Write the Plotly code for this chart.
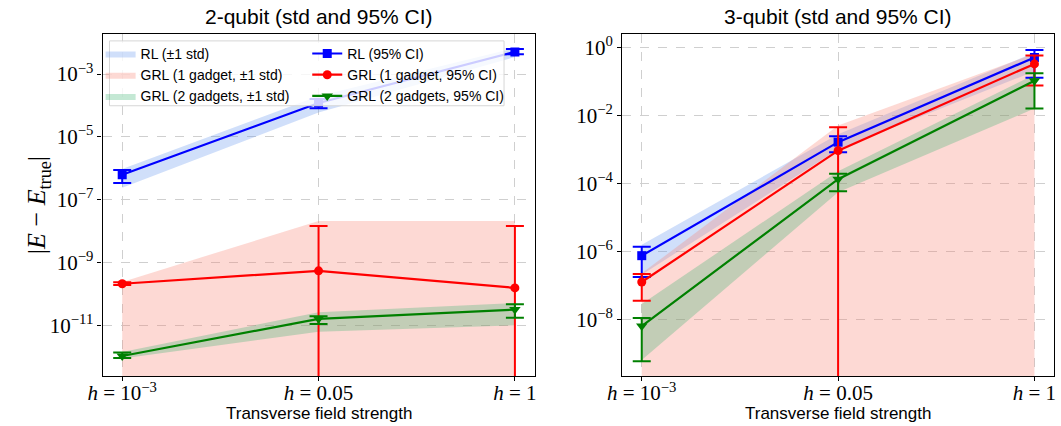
import plotly.graph_objects as go

# Transverse field values (categorical x positions)
categories = ["1e-3", "0.05", "1"]
tick_labels = ["<i>h</i> = 10<sup>−3</sup>", "<i>h</i> = 0.05", "<i>h</i> = 1"]

# ---------- 2-qubit ----------
rl2_mean = [6.2e-7, 1.2e-4, 5.1e-3]
rl2_ci_lo = [3.4e-7, 8.1e-5, 4.3e-3]
rl2_ci_hi = [8.9e-7, 1.6e-4, 6.3e-3]
rl2_std_lo = [2.4e-7, 6.0e-5, 3.5e-3]
rl2_std_hi = [9.5e-7, 2.0e-4, 6.8e-3]

g1_2_mean = [2.1e-10, 5.4e-10, 1.55e-10]
g1_2_ci_lo = [1.9e-10, 1e-16, 1e-16]
g1_2_ci_hi = [2.35e-10, 1.45e-8, 1.45e-8]
g1_2_std_lo = [1e-16, 1e-16, 1e-16]
g1_2_std_hi = [2.4e-10, 2.1e-8, 2.1e-8]

g2_2_mean = [1.05e-12, 1.6e-11, 3.16e-11]
g2_2_ci_lo = [9.1e-13, 1.1e-11, 1.74e-11]
g2_2_ci_hi = [1.35e-12, 1.95e-11, 4.7e-11]
g2_2_std_lo = [8.7e-13, 6.2e-12, 1.0e-11]
g2_2_std_hi = [1.4e-12, 2.6e-11, 5.1e-11]

# ---------- 3-qubit ----------
rl3_mean = [7.6e-7, 1.65e-3, 0.51]
rl3_ci_lo = [1.8e-7, 8.3e-4, 0.13]
rl3_ci_hi = [1.4e-6, 2.45e-3, 0.85]
rl3_std_lo = [2.1e-7, 1.0e-3, 0.2]
rl3_std_hi = [1.6e-6, 2.8e-3, 0.71]

g1_3_mean = [1.28e-7, 9.3e-4, 0.33]
g1_3_ci_lo = [3.6e-8, 1e-16, 0.076]
g1_3_ci_hi = [2.2e-7, 4.5e-3, 0.58]
g1_3_std_lo = [1e-16, 1e-16, 1e-16]
g1_3_std_hi = [2.3e-7, 5.1e-3, 0.66]

g2_3_mean = [6.5e-9, 1.35e-4, 0.105]
g2_3_ci_lo = [6.0e-10, 6.0e-5, 0.016]
g2_3_ci_hi = [1.12e-8, 1.95e-4, 0.175]
g2_3_std_lo = [6.5e-10, 5.6e-5, 0.016]
g2_3_std_hi = [2.9e-8, 2.3e-4, 0.16]

line_colors = ["#0000ff", "#ff0000", "#008000"]
fill_colors = ["rgba(100,149,237,0.3)", "rgba(250,128,114,0.3)", "rgba(60,179,113,0.3)"]
marker_symbols = ["square", "circle", "triangle-down"]
marker_sizes = [9, 9, 10]

panels = [
    dict(
        xa="x", ya="y",
        data=[
            (rl2_mean, rl2_ci_lo, rl2_ci_hi, rl2_std_lo, rl2_std_hi),
            (g1_2_mean, g1_2_ci_lo, g1_2_ci_hi, g1_2_std_lo, g1_2_std_hi),
            (g2_2_mean, g2_2_ci_lo, g2_2_ci_hi, g2_2_std_lo, g2_2_std_hi),
        ],
    ),
    dict(
        xa="x2", ya="y2",
        data=[
            (rl3_mean, rl3_ci_lo, rl3_ci_hi, rl3_std_lo, rl3_std_hi),
            (g1_3_mean, g1_3_ci_lo, g1_3_ci_hi, g1_3_std_lo, g1_3_std_hi),
            (g2_3_mean, g2_3_ci_lo, g2_3_ci_hi, g2_3_std_lo, g2_3_std_hi),
        ],
    ),
]

fig = go.Figure()

std_labels = ["RL (±1 std)", "GRL (1 gadget, ±1 std)", "GRL (2 gadgets, ±1 std)"]
ci_labels = ["RL (95% CI)", "GRL (1 gadget, 95% CI)", "GRL (2 gadgets, 95% CI)"]

for p_i, panel in enumerate(panels):
    # shaded ±1 std bands
    for s_i, (mean, ci_lo, ci_hi, s_lo, s_hi) in enumerate(panel["data"]):
        fig.add_trace(go.Scatter(
            x=categories + categories[::-1],
            y=list(s_hi) + list(s_lo)[::-1],
            fill="toself", fillcolor=fill_colors[s_i],
            line=dict(width=0), mode="lines", hoverinfo="skip",
            name=std_labels[s_i], legend="legend",
            showlegend=(p_i == 0),
            xaxis=panel["xa"], yaxis=panel["ya"],
        ))
    # mean lines with 95% CI error bars
    for s_i, (mean, ci_lo, ci_hi, s_lo, s_hi) in enumerate(panel["data"]):
        fig.add_trace(go.Scatter(
            x=categories, y=mean, mode="lines+markers",
            line=dict(color=line_colors[s_i], width=2.2),
            marker=dict(symbol=marker_symbols[s_i], size=marker_sizes[s_i],
                        color=line_colors[s_i]),
            error_y=dict(type="data", symmetric=False,
                         array=[h - m for h, m in zip(ci_hi, mean)],
                         arrayminus=[m - l for m, l in zip(mean, ci_lo)],
                         color=line_colors[s_i], thickness=2, width=9),
            name=ci_labels[s_i], legend="legend2",
            showlegend=(p_i == 0),
            xaxis=panel["xa"], yaxis=panel["ya"],
        ))

W, H = 1061, 426
def px_x(v):
    return v / W
def px_y(v):
    return 1 - v / H

serif = "Liberation Serif"
sans = "Liberation Sans"

x_common = dict(
    type="category", range=[-0.1, 2.1],
    tickvals=categories, ticktext=tick_labels,
    tickfont=dict(family=serif, size=21, color="black"),
    ticklabelstandoff=-6,
    showline=True, mirror=True, linecolor="black", linewidth=1.2,
    ticks="outside", ticklen=4, tickcolor="black",
    showgrid=True, gridcolor="#cfcfcf", griddash="dash", gridwidth=0.8,
    zeroline=False,
)
y_common = dict(
    type="log",
    tickfont=dict(family=serif, size=21, color="black"),
    showline=True, mirror=True, linecolor="black", linewidth=1.2,
    ticks="outside", ticklen=4, tickcolor="black",
    showgrid=True, gridcolor="#cfcfcf", griddash="dash", gridwidth=0.8,
    zeroline=False,
)

left_ticks = [1e-3, 1e-5, 1e-7, 1e-9, 1e-11]
left_ticktext = ["10<sup>−3</sup>", "10<sup>−5</sup>", "10<sup>−7</sup>", "10<sup>−9</sup>", "10<sup>−11</sup>"]
right_ticks = [1e0, 1e-2, 1e-4, 1e-6, 1e-8]
right_ticktext = ["10<sup>0</sup>", "10<sup>−2</sup>", "10<sup>−4</sup>", "10<sup>−6</sup>", "10<sup>−8</sup>"]

ydom = [px_y(376), px_y(33)]


def label(text, x, y, family, size, angle=0):
    return dict(text=text, x=px_x(x), y=px_y(y), xref="paper", yref="paper",
                xanchor="center", yanchor="middle", showarrow=False,
                textangle=angle, font=dict(family=family, size=size, color="black"))


fig.update_layout(
    width=W, height=H,
    margin=dict(l=0, r=0, t=0, b=0),
    paper_bgcolor="white", plot_bgcolor="white",
    xaxis=dict(domain=[px_x(89), px_x(528)], anchor="y", **x_common),
    yaxis=dict(domain=ydom, anchor="x", range=[-12.62, -1.72],
               tickvals=left_ticks, ticktext=left_ticktext, **y_common),
    xaxis2=dict(domain=[px_x(617), px_x(1056)], anchor="y2", **x_common),
    yaxis2=dict(domain=ydom, anchor="x2", range=[-9.66, 0.40],
                tickvals=right_ticks, ticktext=right_ticktext, **y_common),
    legend=dict(x=px_x(87), y=px_y(37), xanchor="left", yanchor="top",
                bgcolor="rgba(0,0,0,0)", borderwidth=0,
                font=dict(family=sans, size=14, color="black"),
                tracegroupgap=0, itemwidth=30),
    legend2=dict(x=px_x(297), y=px_y(37), xanchor="left", yanchor="top",
                 bgcolor="rgba(0,0,0,0)", borderwidth=0,
                 font=dict(family=sans, size=14, color="black"),
                 tracegroupgap=0, itemwidth=30),
    shapes=[dict(type="rect", xref="paper", yref="paper",
                 x0=px_x(96), x1=px_x(497), y0=px_y(105), y1=px_y(40),
                 line=dict(color="#d6d6d6", width=1),
                 fillcolor="rgba(255,255,255,0.8)", layer="above")],
    annotations=[
        label("2-qubit (std and 95% CI)", 308.5, 16, sans, 21),
        label("3-qubit (std and 95% CI)", 836.5, 16, sans, 21),
        label("Transverse field strength", 308.5, 413, sans, 17),
        label("Transverse field strength", 836.5, 413, sans, 17),
        label("|<i>E</i> − <i>E</i><sub>true</sub>|", 23, 205, serif, 26, -90),
    ],
)

fig.write_html("out.html")
